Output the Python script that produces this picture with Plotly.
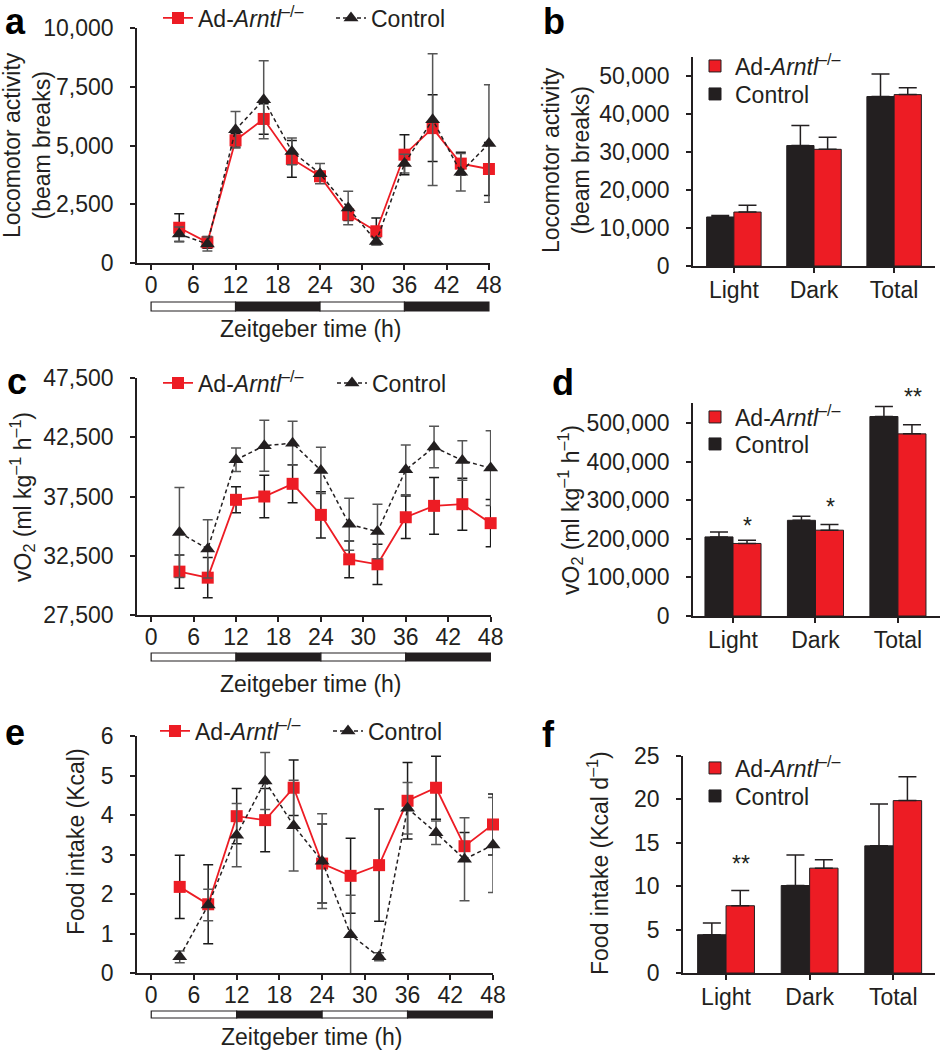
import plotly.graph_objects as go

W, H = 941, 1050
FONT = 'Liberation Sans, Arial, sans-serif'
FS = 23
INK = '#231F20'
RED = '#ED1C24'

# ---- data ------------------------------------------------------------------
zt = [4, 8, 12, 16, 20, 24, 28, 32, 36, 40, 44, 48]
ld_edges = [0, 12, 24, 36, 48]
ld_phase = ['light', 'dark', 'light', 'dark']

loco_ad = [1500, 880, 5220, 6130, 4430, 3690, 2060, 1350, 4610, 5740, 4230, 4000]
loco_ad_err = [600, 250, 280, 650, 780, 200, 250, 560, 850, 1420, 480, 1130]
loco_ctl = [1230, 810, 5670, 6950, 4750, 3800, 2340, 920, 4230, 6100, 3860, 5080]
loco_ctl_err = [300, 300, 780, 1660, 570, 430, 710, 150, 400, 2800, 800, 2500]

vo2_ad = [31160, 30650, 37220, 37500, 38570, 35950, 32200, 31780, 35750, 36710, 36850, 35250]
vo2_ad_err = [1400, 1700, 1100, 1800, 1600, 1950, 1550, 1700, 1800, 2400, 2200, 2000]
vo2_ctl = [34460, 33080, 40600, 41780, 42000, 39700, 35160, 34540, 39750, 41670, 40540, 39900]
vo2_ctl_err = [3800, 2450, 1000, 2150, 1850, 1950, 2200, 2300, 2100, 1750, 1660, 3150]

food_ad = [2.18, 1.74, 3.97, 3.87, 4.69, 2.77, 2.46, 2.73, 4.36, 4.69, 3.21, 3.76]
food_ad_err = [0.8, 1.0, 0.7, 0.8, 0.7, 1.0, 0.95, 1.42, 0.97, 0.8, 0.35, 0.77]
food_ctl = [0.41, 1.72, 3.49, 4.86, 3.73, 2.83, 0.97, 0.41, 4.17, 3.55, 2.88, 3.24]
food_ctl_err = [0.15, 0.4, 0.8, 0.72, 1.15, 1.2, 1.0, 0.1, 0.65, 0.3, 1.05, 1.2]

periods = ['Light', 'Dark', 'Total']
loco_bar_ctl = [12900, 31700, 44600]
loco_bar_ctl_err = [400, 5300, 5900]
loco_bar_ad = [14200, 30700, 45100]
loco_bar_ad_err = [1800, 3200, 1800]

vo2_bar_ctl = [205000, 248000, 517000]
vo2_bar_ctl_err = [13000, 10600, 26000]
vo2_bar_ad = [188000, 222400, 472000]
vo2_bar_ad_err = [8500, 14600, 23700]
vo2_sig = ['*', '*', '**']
vo2_sig_y = [250000, 298000, 584000]

food_bar_ctl = [4.41, 10.08, 14.65]
food_bar_ctl_err = [1.34, 3.52, 4.83]
food_bar_ad = [7.75, 12.08, 19.86]
food_bar_ad_err = [1.76, 0.96, 2.76]
food_sig = ['**', '', '']
food_sig_y = [13.2, None, None]

AD_NAME = 'Ad-<i>Arntl</i><sup>–/–</sup>'


def px(p):
    return p / W


def py(p):
    return 1 - p / H


fig = go.Figure()
shapes, annots = [], []
layout = dict(
    width=W, height=H, margin=dict(l=0, r=0, t=0, b=0, autoexpand=False),
    paper_bgcolor='white', plot_bgcolor='white',
    font=dict(family=FONT, size=FS, color=INK),
    showlegend=True, bargap=0.32, bargroupgap=0, barmode='group',
)
n_leg = [0]


def new_legend(x_px, y_px):
    # one legend per entry so each item can sit where the reference has it
    n_leg[0] += 1
    key = 'legend' if n_leg[0] == 1 else 'legend%d' % n_leg[0]
    layout[key] = dict(x=px(x_px), y=py(y_px), xanchor='left', yanchor='middle',
                       bgcolor='rgba(0,0,0,0)', borderwidth=0,
                       font=dict(family=FONT, size=FS, color=INK),
                       itemwidth=30)
    return key


def axis_style(**kw):
    d = dict(showline=True, linecolor=INK, linewidth=1.5, ticks='outside',
             ticklen=5, tickwidth=1.5, tickcolor=INK, showgrid=False,
             zeroline=False, ticklabelstandoff=12, automargin=False,
             tickfont=dict(family=FONT, size=FS, color=INK))
    d.update(kw)
    return d


def line_panel(n, xpx, ypx, xr, yr, dt, ad, ad_err, ctl, ctl_err,
               ld_px, title_y, leg_y, leg_x):
    sx = '' if n == 1 else str(n)
    layout['xaxis' + sx] = axis_style(domain=[px(xpx[0]), px(xpx[1])], range=xr,
                                      dtick=6, tick0=0, anchor='y' + sx,
                                      ticklabelstandoff=-4)
    layout['yaxis' + sx] = axis_style(domain=[py(ypx[1]), py(ypx[0])], range=yr,
                                      dtick=dt, tick0=yr[0], tickformat=',',
                                      anchor='x' + sx)
    fig.add_trace(go.Scatter(
        x=zt, y=ad, mode='lines+markers', name=AD_NAME,
        legend=new_legend(leg_x[0], leg_y),
        xaxis='x' + sx, yaxis='y' + sx, cliponaxis=False,
        line=dict(color=RED, width=1.8),
        marker=dict(symbol='square', size=12, color=RED),
        error_y=dict(type='data', array=ad_err, color='#1a1a1a', thickness=1.5, width=5),
    ))
    fig.add_trace(go.Scatter(
        x=zt, y=ctl, mode='lines+markers', name='Control',
        legend=new_legend(leg_x[1], leg_y),
        xaxis='x' + sx, yaxis='y' + sx, cliponaxis=False,
        line=dict(color=INK, width=1.5, dash='4px,3px'),
        marker=dict(symbol='triangle-up', size=13, color=INK),
        error_y=dict(type='data', array=ctl_err, color='#555555', thickness=1.5, width=5),
    ))
    for i, ph in enumerate(ld_phase):
        shapes.append(dict(type='rect', xref='x' + sx, yref='paper',
                           x0=ld_edges[i], x1=ld_edges[i + 1],
                           y0=py(ld_px[1]), y1=py(ld_px[0]),
                           fillcolor='white' if ph == 'light' else INK,
                           line=dict(color=INK, width=1.2)))
    annots.append(dict(text='Zeitgeber time (h)', xref='paper', yref='paper',
                       x=px((xpx[0] + xpx[1]) / 2 - 3), y=py(title_y),
                       xanchor='center', yanchor='middle', showarrow=False))


def bar_panel(n, xpx, ypx, xr, yr, dt, ctl, ctl_err, ad, ad_err, leg_y,
              sig=None, sig_y=None):
    sx = str(n)
    layout['xaxis' + sx] = axis_style(domain=[px(xpx[0]), px(xpx[1])], range=xr,
                                      anchor='y' + sx, type='category',
                                      ticklabelstandoff=-2)
    layout['yaxis' + sx] = axis_style(domain=[py(ypx[1]), py(ypx[0])], range=yr,
                                      dtick=dt, tick0=0, tickformat=',',
                                      anchor='x' + sx)
    fig.add_trace(go.Bar(
        x=periods, y=ctl, name='Control', legend=new_legend(695, leg_y[1]),
        xaxis='x' + sx, yaxis='y' + sx,
        marker=dict(color=INK, line=dict(color=INK, width=1)),
        error_y=dict(type='data', symmetric=False, array=ctl_err,
                     arrayminus=[0] * len(ctl), color=INK, thickness=1.5, width=9),
    ))
    fig.add_trace(go.Bar(
        x=periods, y=ad, name=AD_NAME, legend=new_legend(695, leg_y[0]),
        xaxis='x' + sx, yaxis='y' + sx,
        marker=dict(color=RED, line=dict(color=INK, width=1)),
        error_y=dict(type='data', symmetric=False, array=ad_err,
                     arrayminus=[0] * len(ad), color=INK, thickness=1.5, width=9),
    ))
    if sig:
        for i, (s, yv) in enumerate(zip(sig, sig_y)):
            if s:
                # axis-domain reference so marks above the range still show
                annots.append(dict(text=s, xref='x' + sx, yref='y%s domain' % sx,
                                   x=i + 0.18, y=(yv - yr[0]) / (yr[1] - yr[0]),
                                   xanchor='center', yanchor='middle', yshift=-6,
                                   showarrow=False, font=dict(size=FS)))


line_panel(1, (137, 490), (28, 263), [-2, 48.15], [0, 10000], 2500,
           loco_ad, loco_ad_err, loco_ctl, loco_ctl_err, (302, 311), 329,
           18, (158, 331))
bar_panel(2, (693, 935), (57, 266), [-0.51, 2.51], [0, 55000], 10000,
          loco_bar_ctl, loco_bar_ctl_err, loco_bar_ad, loco_bar_ad_err, (66, 94))
line_panel(3, (137, 491), (378, 615), [-2, 48.05], [27500, 47500], 5000,
           vo2_ad, vo2_ad_err, vo2_ctl, vo2_ctl_err, (653, 661), 684,
           383, (158, 332))
bar_panel(4, (693, 940), (403, 616), [-0.485, 2.51], [0, 552000], 100000,
          vo2_bar_ctl, vo2_bar_ctl_err, vo2_bar_ad, vo2_bar_ad_err, (417, 444),
          vo2_sig, vo2_sig_y)
line_panel(5, (137, 493), (736, 973), [-2, 48.0], [0, 6], 1,
           food_ad, food_ad_err, food_ctl, food_ctl_err, (1011, 1018), 1037,
           731, (155, 328))
bar_panel(6, (683, 935), (756, 973), [-0.515, 2.5], [0, 25], 5,
          food_bar_ctl, food_bar_ctl_err, food_bar_ad, food_bar_ad_err, (768, 796),
          food_sig, food_sig_y)

# y-axis titles
ytitles = [
    ('Locomotor activity<br>(beam breaks)', 27, 145),
    ('Locomotor activity<br>(beam breaks)', 566, 160),
    ('vO<sub>2</sub> (ml kg<sup>–1</sup> h<sup>–1</sup>)', 22, 497),
    ('vO<sub>2</sub> (ml kg<sup>–1</sup> h<sup>–1</sup>)', 570, 510),
    ('Food intake (Kcal)', 76, 842),
    ('Food intake (Kcal d<sup>–1</sup>)', 598, 863),
]
for txt, xp, yp in ytitles:
    annots.append(dict(text=txt, xref='paper', yref='paper', x=px(xp), y=py(yp),
                       xanchor='center', yanchor='middle', textangle=-90,
                       showarrow=False))

# panel letters
letters = [('a', 3, 22), ('b', 541, 22), ('c', 5, 381), ('d', 550, 382),
           ('e', 3, 732), ('f', 540, 734)]
for t, xp, yp in letters:
    annots.append(dict(text='<b>%s</b>' % t, xref='paper', yref='paper',
                       x=px(xp), y=py(yp), xanchor='left', yanchor='middle',
                       showarrow=False, font=dict(size=36, color='black')))

layout['shapes'] = shapes
layout['annotations'] = annots
fig.update_layout(**layout)
fig.write_html('out.html', config={'displayModeBar': False},
               post_script="document.body.style.margin='0px';")
